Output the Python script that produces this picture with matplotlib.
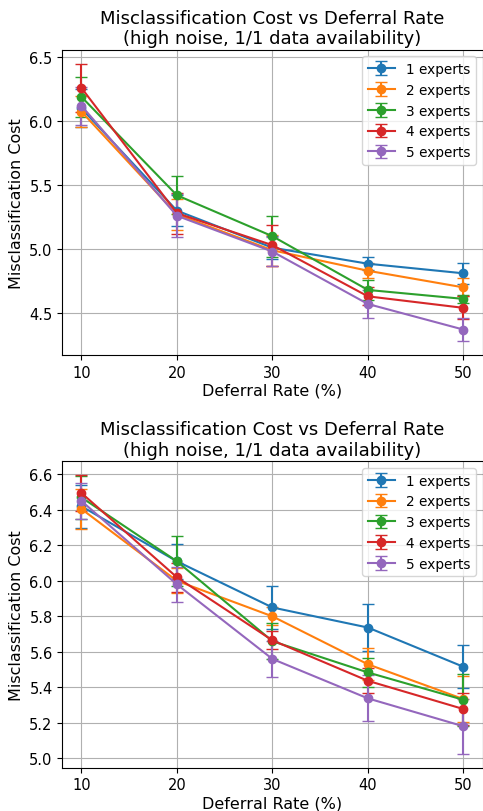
import numpy as np
import matplotlib
matplotlib.use('Agg')
import matplotlib.pyplot as plt

deferral = [10, 20, 30, 40, 50]
labels = ['1 experts', '2 experts', '3 experts', '4 experts', '5 experts']

# top panel: mean cost per expert count, and std
top_means = [
    [6.10, 5.30, 5.01, 4.885, 4.81],
    [6.075, 5.27, 4.99, 4.83, 4.70],
    [6.19, 5.42, 5.10, 4.68, 4.61],
    [6.26, 5.28, 5.03, 4.63, 4.54],
    [6.12, 5.26, 4.98, 4.57, 4.37],
]
top_errs = [
    [0.15, 0.12, 0.09, 0.05, 0.08],
    [0.12, 0.12, 0.12, 0.06, 0.07],
    [0.155, 0.15, 0.16, 0.08, 0.03],
    [0.19, 0.16, 0.16, 0.07, 0.09],
    [0.15, 0.17, 0.11, 0.11, 0.09],
]

# bottom panel
bot_means = [
    [6.42, 6.11, 5.85, 5.737, 5.516],
    [6.405, 6.00, 5.80, 5.53, 5.334],
    [6.47, 6.11, 5.66, 5.484, 5.33],
    [6.495, 6.02, 5.665, 5.437, 5.278],
    [6.45, 5.98, 5.56, 5.338, 5.181],
]
bot_errs = [
    [0.12, 0.10, 0.12, 0.13, 0.12],
    [0.115, 0.07, 0.05, 0.09, 0.13],
    [0.12, 0.14, 0.10, 0.08, 0.145],
    [0.10, 0.08, 0.05, 0.07, 0.09],
    [0.10, 0.10, 0.10, 0.13, 0.155],
]

title = 'Misclassification Cost vs Deferral Rate\n(high noise, 1/1 data availability)'

fig = plt.figure(figsize=(4.83, 8.12), dpi=100)
ax1 = fig.add_axes([0.129, 0.5616, 0.870, 0.376])
ax2 = fig.add_axes([0.129, 0.0533, 0.870, 0.3774])


def draw(ax, means, errs):
    for m, e, lab in zip(means, errs, labels):
        ax.errorbar(deferral, m, yerr=e, marker='o', capsize=4, label=lab)
    ax.set_title(title, fontsize=13, pad=4.5)
    ax.set_xlabel('Deferral Rate (%)', fontsize=11.5, labelpad=2)
    ax.set_ylabel('Misclassification Cost', fontsize=11.5)
    ax.set_xticks(deferral)
    ax.tick_params(labelsize=10.5)
    ax.grid(True)
    ax.legend(loc='upper right', fontsize=9.8)


draw(ax1, top_means, top_errs)
draw(ax2, bot_means, bot_errs)

fig.savefig('out.png', dpi=100)
